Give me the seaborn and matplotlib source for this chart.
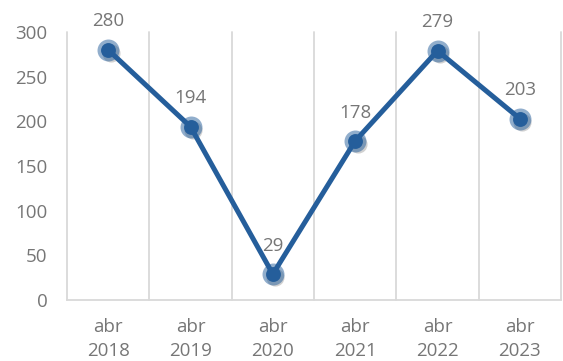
import matplotlib
matplotlib.use("Agg")
import matplotlib.pyplot as plt
import matplotlib.transforms as mtransforms
import seaborn as sns
import pandas as pd

categories = ["abr\n2018", "abr\n2019", "abr\n2020", "abr\n2021", "abr\n2022", "abr\n2023"]
values = [280, 194, 29, 178, 279, 203]
y_ticks = [0, 50, 100, 150, 200, 250, 300]

LINE = "#255e9b"
TEXT = "#767676"
GRID = "#d9d9d9"

sns.set_theme(style="white")
plt.rcParams["font.family"] = ["Open Sans", "DejaVu Sans"]

df = pd.DataFrame({"x": range(len(categories)), "y": values})

fig = plt.figure(figsize=(5.63, 3.61), dpi=100)
ax = fig.add_axes([67 / 563, 1 - 300 / 361, (561 - 67) / 563, (300 - 32) / 361])

# vertical separators between categories
for b in [i + 0.5 for i in range(-1, len(categories))]:
    ax.axvline(b, color=GRID, lw=1.3, zorder=0)

sns.lineplot(data=df, x="x", y="y", ax=ax, color=LINE, lw=3.6, zorder=3)

# soft drop shadow under each marker
shadow = mtransforms.offset_copy(ax.transData, fig=fig, x=2.5, y=-3, units="dots")
ax.scatter(df["x"], df["y"], s=170, color="#000000", alpha=0.18, transform=shadow,
           zorder=2, linewidths=0)
# halo and solid marker
ax.scatter(df["x"], df["y"], s=250, color=LINE, alpha=0.5, zorder=4, linewidths=0)
ax.scatter(df["x"], df["y"], s=115, color=LINE, zorder=5, linewidths=0)

for xi, yi in zip(df["x"], df["y"]):
    ax.annotate(f"{yi}", (xi, yi), xytext=(0, 14), textcoords="offset points",
                ha="center", va="bottom", color=TEXT, fontsize=13.5)

ax.set_xlim(-0.5, len(categories) - 0.5)
ax.set_ylim(0, 300)
ax.set_yticks(y_ticks)
ax.set_xticks(range(len(categories)))
ax.set_xticklabels(categories)
ax.set_xlabel("")
ax.set_ylabel("")

for side in ["top", "right", "left"]:
    ax.spines[side].set_visible(False)
ax.spines["bottom"].set_color(GRID)
ax.spines["bottom"].set_linewidth(1.3)

ax.tick_params(axis="y", length=0, labelsize=13.5, labelcolor=TEXT, pad=14)
ax.tick_params(axis="x", direction="in", length=4, width=1, color=GRID,
               labelsize=13.5, labelcolor=TEXT, pad=13)
for lbl in ax.get_xticklabels():
    lbl.set_linespacing(1.4)

ax.set_clip_on(False)
for c in ax.collections + ax.lines:
    c.set_clip_on(False)

fig.savefig("out.png", dpi=100)
